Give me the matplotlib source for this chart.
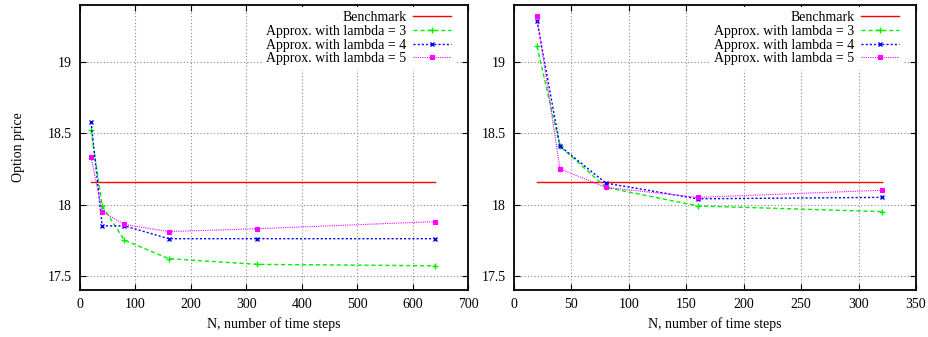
import matplotlib
matplotlib.use("Agg")
import matplotlib.pyplot as plt

plt.rcParams['font.family'] = ['Liberation Serif', 'DejaVu Serif']

# Left panel data
n_left = [20, 40, 80, 160, 320, 640]
bench_left = [18.16, 18.16, 18.16, 18.16, 18.16, 18.16]
lam3_left = [18.52, 17.99, 17.75, 17.62, 17.58, 17.57]
lam4_left = [18.58, 17.85, 17.85, 17.76, 17.76, 17.76]
lam5_left = [18.33, 17.95, 17.86, 17.81, 17.83, 17.88]

# Right panel data
n_right = [20, 40, 80, 160, 320]
bench_right = [18.16, 18.16, 18.16, 18.16, 18.16]
lam3_right = [19.11, 18.41, 18.12, 17.99, 17.95]
lam4_right = [19.29, 18.41, 18.15, 18.04, 18.05]
lam5_right = [19.32, 18.25, 18.12, 18.05, 18.10]

xticks_left = [0, 100, 200, 300, 400, 500, 600, 700]
xticks_right = [0, 50, 100, 150, 200, 250, 300, 350]
yticks = [17.5, 18, 18.5, 19]

W, H = 929, 337
fig = plt.figure(figsize=(W / 100, H / 100), dpi=100)
ax1 = fig.add_axes([80 / W, (H - 290) / H, (468 - 80) / W, 285 / H])
ax2 = fig.add_axes([514 / W, (H - 290) / H, (916 - 514) / W, 285 / H])

def draw(ax, n, bench, l3, l4, l5, xticks, xmax, width_px):
    ax.plot(n, bench, color='#ff0000', lw=1.0, label='Benchmark')
    ax.plot(n, l3, color='#00ee00', lw=1.0, ls=(0, (3, 2)), marker='+', ms=4.5,
            mew=1.0, label='Approx. with lambda = 3')
    ax.plot(n, l4, color='#0000ff', lw=1.0, ls=(0, (1.5, 1.5)), marker='x', ms=3.2,
            mew=1.0, label='Approx. with lambda = 4')
    ax.plot(n, l5, color='#ff00ff', lw=0.8, ls=(0, (1, 1)), marker='s', ms=3.2,
            mew=0.8, label='Approx. with lambda = 5')
    ax.set_xlim(0, xmax)
    ax.set_ylim(17.4, 19.4)
    ax.set_xticks(xticks)
    ax.set_yticks(yticks)
    ax.set_yticklabels(['17.5', '18', '18.5', '19'])
    ax.grid(True, color='#888888', ls=(0, (1, 2)), lw=0.8)
    ax.set_axisbelow(True)
    ax.tick_params(direction='in', top=True, right=True, labelsize=10, length=4,
                   width=0.8, pad=6)
    for s in ax.spines.values():
        s.set_linewidth(1.3)
    ax.set_xlabel('N, number of time steps', fontsize=10)
    leg = ax.legend(loc='upper right', markerfirst=False, fontsize=10,
                    frameon=True, fancybox=False, framealpha=1.0,
                    handlelength=2.7, labelspacing=0.05, borderpad=0.3,
                    handletextpad=0.5, borderaxespad=0.15,
                    bbox_to_anchor=(1 - 11 / width_px, 1.0))
    leg.get_frame().set_edgecolor('white')
    leg.get_frame().set_linewidth(0)
    for t in leg.get_texts():
        t.set_ha('right')
    leg._legend_box.align = 'right'
    return leg

draw(ax1, n_left, bench_left, lam3_left, lam4_left, lam5_left, xticks_left, 700, 388)
draw(ax2, n_right, bench_right, lam3_right, lam4_right, lam5_right, xticks_right, 350, 402)
ax1.set_ylabel('Option price', fontsize=10, labelpad=16)

fig.savefig('out.png', dpi=100)
